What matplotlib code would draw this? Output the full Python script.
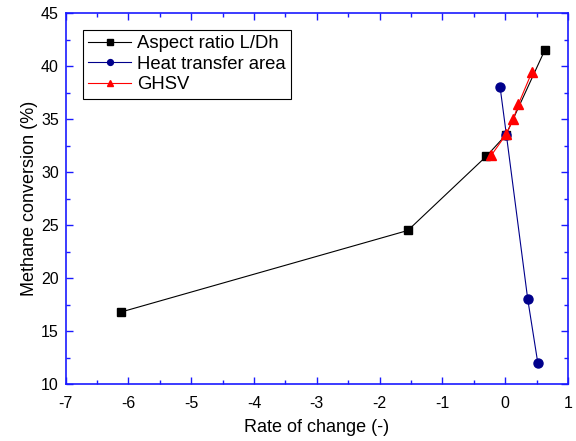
import matplotlib
matplotlib.use("Agg")
import matplotlib.pyplot as plt
from matplotlib.ticker import MultipleLocator

plt.rcParams["font.family"] = ["Liberation Sans", "DejaVu Sans"]
plt.rcParams["axes.unicode_minus"] = False

# data
aspect_x = [-6.12, -1.55, -0.3, 0.01, 0.63]
aspect_y = [16.8, 24.5, 31.5, 33.5, 41.5]

area_x = [-0.08, 0.02, 0.36, 0.52]
area_y = [38.0, 33.5, 18.0, 12.0]

ghsv_x = [-0.22, 0.02, 0.13, 0.21, 0.43]
ghsv_y = [31.6, 33.6, 35.0, 36.4, 39.5]

spine_col = "#1a1aff"

fig = plt.figure(figsize=(5.76, 4.41), dpi=100)
ax = fig.add_axes([0.114, 0.129, 0.872, 0.841])

ax.plot(aspect_x, aspect_y, color="black", lw=0.8, marker="s", ms=6,
        label="Aspect ratio L/Dh")
ax.plot(area_x, area_y, color="#00008b", lw=0.8, marker="o", ms=6.5,
        label="Heat transfer area")
ax.plot(ghsv_x, ghsv_y, color="red", lw=0.8, marker="^", ms=7.5,
        label="GHSV")

ax.set_xlim(-7, 1)
ax.set_ylim(10, 45)
ax.xaxis.set_major_locator(MultipleLocator(1))
ax.xaxis.set_minor_locator(MultipleLocator(0.5))
ax.yaxis.set_major_locator(MultipleLocator(5))
ax.yaxis.set_minor_locator(MultipleLocator(2.5))

for s in ax.spines.values():
    s.set_color(spine_col)
    s.set_linewidth(1.2)
ax.tick_params(which="both", direction="in", top=True, right=True,
               color=spine_col, labelsize=11.5, width=1)
ax.tick_params(which="major", length=5)
ax.tick_params(which="minor", length=3)
ax.tick_params(axis="x", which="major", pad=8.5)
ax.tick_params(axis="y", which="major", pad=5)

ax.set_xlabel("Rate of change (-)", fontsize=13, labelpad=6)
ax.set_ylabel("Methane conversion (%)", fontsize=13, labelpad=2)

leg = ax.legend(loc="upper left", bbox_to_anchor=(0.034, 0.956), borderaxespad=0,
                fontsize=13.3, fancybox=False, edgecolor="black", framealpha=1,
                handlelength=2.3, borderpad=0.3, labelspacing=0.2,
                handletextpad=0.35, markerscale=0.65)
leg.get_frame().set_linewidth(0.8)

fig.savefig("out.png", dpi=100)
